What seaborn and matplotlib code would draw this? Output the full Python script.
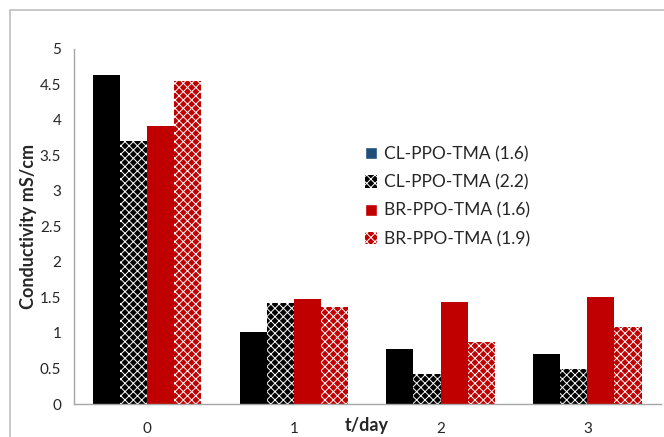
import numpy as np
import pandas as pd
import matplotlib
matplotlib.use('Agg')
import matplotlib.pyplot as plt
import seaborn as sns
from matplotlib.patches import Patch, Rectangle

days = ['0', '1', '2', '3']
series = ['CL-PPO-TMA (1.6)', 'CL-PPO-TMA (2.2)', 'BR-PPO-TMA (1.6)', 'BR-PPO-TMA (1.9)']
cl_16 = [4.63, 1.02, 0.77, 0.70]
cl_22 = [3.70, 1.42, 0.42, 0.50]
br_16 = [3.91, 1.48, 1.44, 1.50]
br_19 = [4.55, 1.36, 0.87, 1.09]

df = pd.DataFrame({'day': days * 4,
                   'series': np.repeat(series, 4),
                   'cond': cl_16 + cl_22 + br_16 + br_19})

sns.set_style('white')
plt.rcParams['font.family'] = ['Lato', 'DejaVu Sans']
plt.rcParams['hatch.linewidth'] = 0.7

fig = plt.figure(figsize=(6.64, 4.37), dpi=100)
ax = fig.add_axes([0.111, 0.0755, 0.884, 0.8125])

colors = ['black', 'black', '#C00000', '#C00000']
ax = sns.barplot(data=df, x='day', y='cond', hue='series', palette=colors,
                 width=0.74, gap=0, saturation=1, legend=False, ax=ax)

hatches = [None, 'xxxx', None, 'xxxx']
for cont, h in zip(ax.containers, hatches):
    for bar in cont:
        bar.set_linewidth(0)
        if h:
            bar.set_hatch(h)
            bar.set_edgecolor('white')

# legend (first entry is shown in blue in the original)
handles = [Patch(facecolor='#1F4E79'),
           Patch(facecolor='black', edgecolor='white', hatch='xxxx', linewidth=0),
           Patch(facecolor='#C00000'),
           Patch(facecolor='#C00000', edgecolor='white', hatch='xxxx', linewidth=0)]
ax.legend(handles, series, loc='upper left', bbox_to_anchor=(0.47, 0.77),
          frameon=False, fontsize=12.5, handlelength=0.7, handleheight=0.7,
          handletextpad=0.4, labelspacing=0.7)

ax.set_ylim(0, 5)
ax.set_xlim(-0.5, 3.5)
ax.set_yticks(np.arange(0, 5.01, 0.5))
ax.set_yticklabels(['0', '0.5', '1', '1.5', '2', '2.5', '3', '3.5', '4', '4.5', '5'])
ax.set_xticks([-0.5, 0.5, 1.5, 2.5, 3.5], minor=True)
ax.tick_params(axis='x', which='major', length=0, pad=13, labelsize=11)
ax.tick_params(axis='x', which='minor', length=5, color='#A6A6A6', width=1)
ax.tick_params(axis='y', length=5, color='#A6A6A6', width=1, labelsize=11, pad=4)

for s in ['top', 'right']:
    ax.spines[s].set_visible(False)
for s in ['left', 'bottom']:
    ax.spines[s].set_color('#A6A6A6')
    ax.spines[s].set_linewidth(1)

ax.set_xlabel('t/day', fontsize=13, fontweight='bold')
ax.xaxis.set_label_coords(0.5, -0.036)
ax.set_ylabel('Conductivity mS/cm', fontsize=13, fontweight='bold')
ax.yaxis.set_label_coords(-0.062, 0.5)

# outer chart frame
fig.patches.append(Rectangle((10 / 664, -0.5), 2, 0.5 + 1 - 10 / 437,
                             transform=fig.transFigure, fill=False,
                             edgecolor='#BFBFBF', linewidth=1.2))

fig.savefig('out.png', dpi=100)
